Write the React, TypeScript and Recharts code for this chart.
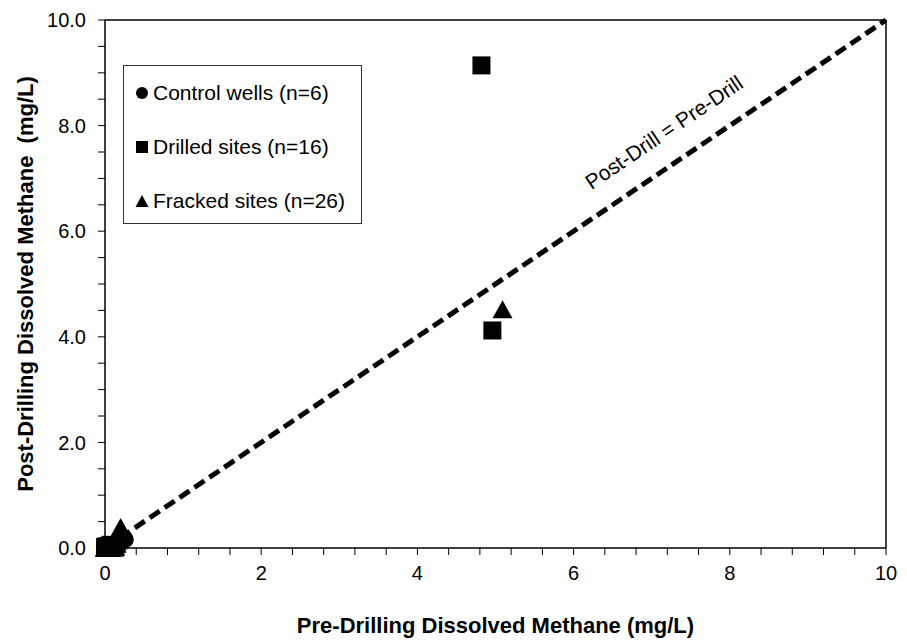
import React from 'react';
import { ScatterChart, Scatter, XAxis, YAxis, ReferenceLine, ReferenceDot, Label } from 'recharts';

// pre-drill (x) vs post-drill (y) dissolved methane, mg/L
const controlWells = [
  { x: 0.02, y: 0.0 },
  { x: 0.05, y: 0.01 },
  { x: 0.1, y: 0.02 },
  { x: 0.15, y: 0.05 },
  { x: 0.21, y: 0.1 },
  { x: 0.26, y: 0.16 },
];

const drilledSites = [
  { x: 4.82, y: 9.14 },
  { x: 4.96, y: 4.12 },
  { x: 0.0, y: 0.0 },
  { x: 0.01, y: 0.0 },
  { x: 0.02, y: 0.01 },
  { x: 0.03, y: 0.0 },
  { x: 0.0, y: 0.02 },
  { x: 0.05, y: 0.03 },
  { x: 0.04, y: 0.01 },
  { x: 0.08, y: 0.02 },
  { x: 0.1, y: 0.04 },
  { x: 0.06, y: 0.0 },
  { x: 0.12, y: 0.05 },
  { x: 0.02, y: 0.03 },
  { x: 0.07, y: 0.06 },
  { x: 0.13, y: 0.01 },
];

const frackedSites = [
  { x: 5.09, y: 4.52 },
  { x: 0.2, y: 0.4 },
  { x: 0.0, y: 0.0 },
  { x: 0.01, y: 0.0 },
  { x: 0.02, y: 0.0 },
  { x: 0.03, y: 0.01 },
  { x: 0.04, y: 0.0 },
  { x: 0.05, y: 0.02 },
  { x: 0.06, y: 0.01 },
  { x: 0.07, y: 0.0 },
  { x: 0.08, y: 0.03 },
  { x: 0.09, y: 0.02 },
  { x: 0.1, y: 0.01 },
  { x: 0.11, y: 0.04 },
  { x: 0.12, y: 0.02 },
  { x: 0.0, y: 0.01 },
  { x: 0.01, y: 0.03 },
  { x: 0.02, y: 0.02 },
  { x: 0.03, y: 0.04 },
  { x: 0.04, y: 0.03 },
  { x: 0.05, y: 0.0 },
  { x: 0.06, y: 0.05 },
  { x: 0.08, y: 0.01 },
  { x: 0.1, y: 0.06 },
  { x: 0.13, y: 0.03 },
  { x: 0.15, y: 0.08 },
];

const xTicks = [0, 0.4, 0.8, 1.2, 1.6, 2, 2.4, 2.8, 3.2, 3.6, 4, 4.4, 4.8, 5.2, 5.6, 6, 6.4, 6.8, 7.2, 7.6, 8, 8.4, 8.8, 9.2, 9.6, 10];
const yTicks = [0, 0.5, 1, 1.5, 2, 2.5, 3, 3.5, 4, 4.5, 5, 5.5, 6, 6.5, 7, 7.5, 8, 8.5, 9, 9.5, 10];

const legendItems = [
  { label: 'Control wells (n=6)', shape: 'circle' },
  { label: 'Drilled sites (n=16)', shape: 'square' },
  { label: 'Fracked sites (n=26)', shape: 'triangle' },
];

const FONT = '"Liberation Sans", Arial, Helvetica, sans-serif';
const W = 907;
const H = 642;
const MARGIN = { top: 20, right: 21, bottom: 0, left: 0 };
const Y_AXIS_W = 105;
const X_AXIS_H = 94;

const isMajor = (v: number) => Math.abs(v / 2 - Math.round(v / 2)) < 1e-6;

const CircleMark = (props: any) => <circle cx={props.cx} cy={props.cy} r={8.5} fill="#000" />;
const SquareMark = (props: any) => <rect x={props.cx - 9} y={props.cy - 9} width={18} height={18} fill="#000" />;
const TriangleMark = (props: any) => (
  <polygon points={`${props.cx - 10},${props.cy + 9} ${props.cx + 10},${props.cy + 9} ${props.cx},${props.cy - 9}`} fill="#000" />
);

const LegendGlyph = ({ shape }: { shape: string }) => (
  <svg width={14} height={14} style={{ display: 'block' }}>
    {shape === 'circle' && <circle cx={7} cy={7} r={6} fill="#000" />}
    {shape === 'square' && <rect x={1} y={1} width={12} height={12} fill="#000" />}
    {shape === 'triangle' && <polygon points="0.5,13 13.5,13 7,1" fill="#000" />}
  </svg>
);

export default function App() {
  const plotW = W - MARGIN.left - MARGIN.right - Y_AXIS_W;
  const plotH = H - MARGIN.top - MARGIN.bottom - X_AXIS_H;
  const angle = -(Math.atan2(plotH, plotW) * 180) / Math.PI;

  return (
    <div style={{ position: 'absolute', left: 0, top: 0, width: W, height: H, background: '#fff', fontFamily: FONT }}>
      <ScatterChart width={W} height={H} margin={MARGIN}>
        <XAxis
          type="number"
          dataKey="x"
          domain={[0, 10]}
          ticks={xTicks}
          interval={0}
          height={X_AXIS_H}
          tickSize={7}
          tickMargin={11}
          tickFormatter={(v: number) => (isMajor(v) ? String(Math.round(v)) : '')}
          tick={{ fontSize: 20, fill: '#000', fontFamily: FONT }}
          axisLine={{ stroke: '#000', strokeWidth: 1.5 }}
          tickLine={{ stroke: '#000', strokeWidth: 1 }}
        >
          <Label
            content={(p: any) => (
              <text
                x={p.viewBox.x + p.viewBox.width / 2}
                y={p.viewBox.y + 77}
                textAnchor="middle"
                dominantBaseline="central"
                fontFamily={FONT}
                fontWeight="bold"
                fontSize={22}
                fill="#000"
              >
                Pre-Drilling Dissolved Methane (mg/L)
              </text>
            )}
          />
        </XAxis>
        <YAxis
          type="number"
          dataKey="y"
          domain={[0, 10]}
          ticks={yTicks}
          interval={0}
          width={Y_AXIS_W}
          tickSize={7}
          tickMargin={12}
          tickFormatter={(v: number) => (isMajor(v) ? v.toFixed(1) : '')}
          tick={{ fontSize: 20, fill: '#000', fontFamily: FONT }}
          axisLine={{ stroke: '#000', strokeWidth: 1.5 }}
          tickLine={{ stroke: '#000', strokeWidth: 1 }}
        >
          <Label
            content={(p: any) => {
              const cy = p.viewBox.y + p.viewBox.height / 2;
              return (
                <text
                  x={25}
                  y={cy}
                  transform={`rotate(-90, 25, ${cy})`}
                  textAnchor="middle"
                  dominantBaseline="central"
                  fontFamily={FONT}
                  fontWeight="bold"
                  fontSize={22}
                  fill="#000"
                  xmlSpace="preserve"
                  style={{ whiteSpace: 'pre' }}
                >
                  {'Post-Drilling Dissolved Methane  (mg/L)'}
                </text>
              );
            }}
          />
        </YAxis>
        <ReferenceLine y={10} stroke="#000" strokeWidth={1.5} />
        <ReferenceLine x={10} stroke="#000" strokeWidth={1.5} />
        <ReferenceLine
          segment={[{ x: 0, y: 0 }, { x: 10, y: 10 }]}
          stroke="#000"
          strokeWidth={5}
          strokeDasharray="12 6"
        />
        <ReferenceDot
          x={6.4}
          y={6.4}
          r={0}
          fill="none"
          stroke="none"
          label={{
            content: (p: any) => {
              const cx = p.viewBox.x;
              const cy = p.viewBox.y;
              return (
                <text
                  x={cx}
                  y={cy}
                  dy={-24}
                  transform={`rotate(${angle}, ${cx}, ${cy})`}
                  textAnchor="start"
                  fontFamily={FONT}
                  fontSize={21}
                  fill="#000"
                >
                  Post-Drill = Pre-Drill
                </text>
              );
            },
          }}
        />
        <Scatter name="Fracked sites (n=26)" data={frackedSites} shape={TriangleMark} isAnimationActive={false} />
        <Scatter name="Drilled sites (n=16)" data={drilledSites} shape={SquareMark} isAnimationActive={false} />
        <Scatter name="Control wells (n=6)" data={controlWells} shape={CircleMark} isAnimationActive={false} />
      </ScatterChart>
      <div
        style={{
          position: 'absolute',
          left: 123,
          top: 65,
          width: 239,
          height: 159,
          boxSizing: 'border-box',
          border: '1.5px solid #333',
          background: '#fff',
        }}
      >
        {legendItems.map((item, i) => (
          <div
            key={item.label}
            style={{
              position: 'absolute',
              left: 11,
              top: 27 + i * 54 - 14,
              height: 28,
              display: 'flex',
              alignItems: 'center',
              whiteSpace: 'nowrap',
            }}
          >
            <LegendGlyph shape={item.shape} />
            <span style={{ marginLeft: 4, fontSize: 21, color: '#000', fontFamily: FONT }}>{item.label}</span>
          </div>
        ))}
      </div>
    </div>
  );
}
